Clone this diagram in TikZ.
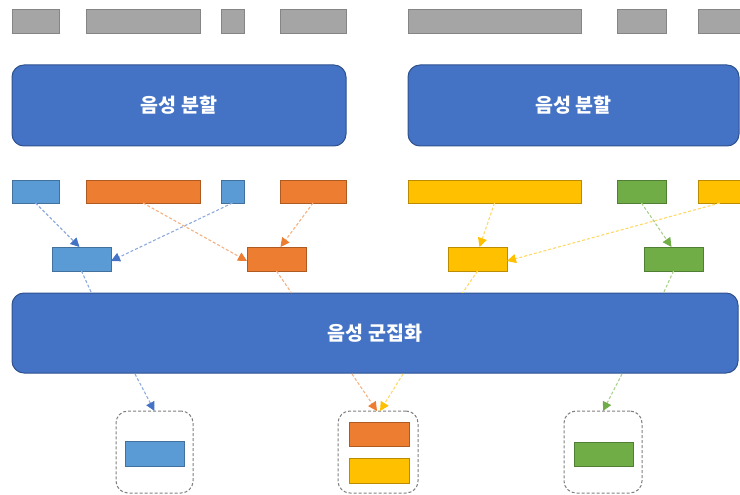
\documentclass[tikz,border=0pt]{standalone}
\usepackage{fontspec}
\newfontfamily\kr{Noto Sans CJK KR}
\usetikzlibrary{arrows.meta}
\definecolor{grayF}{HTML}{A5A5A5}
\definecolor{grayD}{HTML}{858585}
\definecolor{bigF}{HTML}{4472C4}
\definecolor{bigD}{HTML}{2F528F}
\definecolor{blueF}{HTML}{5B9BD5}
\definecolor{blueD}{HTML}{41719C}
\definecolor{orangeF}{HTML}{ED7D31}
\definecolor{orangeD}{HTML}{AE5A21}
\definecolor{yellowF}{HTML}{FFC000}
\definecolor{yellowD}{HTML}{BC8C00}
\definecolor{greenF}{HTML}{70AD47}
\definecolor{greenD}{HTML}{507E32}
\definecolor{blueL}{HTML}{8FAADC}
\definecolor{orangeL}{HTML}{F4B183}
\definecolor{yellowL}{HTML}{FFD966}
\definecolor{greenL}{HTML}{A9D18E}
\definecolor{boxL}{HTML}{7F7F7F}
\tikzset{
  seg/.style={anchor=north west, inner sep=0pt, outer sep=0pt, line width=1pt},
  graybar/.style={seg, fill=grayF, draw=grayD},
  bluebar/.style={seg, fill=blueF, draw=blueD},
  orangebar/.style={seg, fill=orangeF, draw=orangeD},
  yellowbar/.style={seg, fill=yellowF, draw=yellowD},
  greenbar/.style={seg, fill=greenF, draw=greenD},
  block/.style={anchor=north west, inner sep=0pt, outer sep=0pt, fill=bigF, draw=bigD, line width=1pt, rounded corners=12pt, text=white, font=\kr\bfseries\fontsize{19.5}{22}\selectfont},
  group/.style={anchor=north west, inner sep=0pt, outer sep=0pt, draw=boxL, dashed, line width=1pt, rounded corners=12pt, dash pattern=on 3pt off 2pt},
  link/.style={line width=1.1pt, dash pattern=on 3pt off 2pt},
  bluelink/.style={link, draw=blueL, -{Triangle[length=9pt,width=9pt,color=bigF,fill=bigF]}},
  orangelink/.style={link, draw=orangeL, -{Triangle[length=9pt,width=9pt,color=orangeF,fill=orangeF]}},
  yellowlink/.style={link, draw=yellowL, -{Triangle[length=9pt,width=9pt,color=yellowF,fill=yellowF]}},
  greenlink/.style={link, draw=greenL, -{Triangle[length=9pt,width=9pt,color=greenF,fill=greenF]}},
}
\begin{document}
\begin{tikzpicture}[x=1pt,y=-1pt]
\useasboundingbox (0,0) rectangle (740,495);
% top gray row
\node[graybar, minimum width=47, minimum height=24] (g1) at (12,10) {};
\node[graybar, minimum width=114, minimum height=24] (g2) at (86,10) {};
\node[graybar, minimum width=23, minimum height=24] (g3) at (221,10) {};
\node[graybar, minimum width=66, minimum height=24] (g4) at (280,10) {};
\node[graybar, minimum width=173, minimum height=24] (g5) at (408,10) {};
\node[graybar, minimum width=49, minimum height=24] (g6) at (617,10) {};
\node[graybar, minimum width=50, minimum height=24] (g7) at (698,10) {};
% segmentation blocks
\node[block, minimum width=334, minimum height=81] (seg1) at (12,65) {음성 분할};
\node[block, minimum width=331, minimum height=81] (seg2) at (408,65) {음성 분할};
% coloured row
\node[bluebar, minimum width=47, minimum height=23] (c1) at (12,180) {};
\node[orangebar, minimum width=114, minimum height=23] (c2) at (86,180) {};
\node[bluebar, minimum width=23, minimum height=23] (c3) at (221,180) {};
\node[orangebar, minimum width=66, minimum height=23] (c4) at (280,180) {};
\node[yellowbar, minimum width=173, minimum height=23] (c5) at (408,180) {};
\node[greenbar, minimum width=49, minimum height=23] (c6) at (617,180) {};
\node[yellowbar, minimum width=50, minimum height=23] (c7) at (698,180) {};
% middle boxes
\node[bluebar, minimum width=59, minimum height=24] (mb) at (52,247) {};
\node[orangebar, minimum width=59, minimum height=24] (mo) at (247,247) {};
\node[yellowbar, minimum width=59, minimum height=24] (my) at (448,247) {};
\node[greenbar, minimum width=59, minimum height=24] (mg) at (644,247) {};
% clustering block
\node[block, minimum width=726, minimum height=80] (clu) at (12,293) {음성 군집화};
% result groups
\node[group, minimum width=77, minimum height=82] (r1) at (116,411) {};
\node[group, minimum width=80, minimum height=82] (r2) at (338,411) {};
\node[group, minimum width=78, minimum height=82] (r3) at (564,411) {};
\node[bluebar, minimum width=59, minimum height=25] (rb) at (125,441) {};
\node[orangebar, minimum width=60, minimum height=24] (ro) at (349,422) {};
\node[yellowbar, minimum width=60, minimum height=25] (ry) at (349,458) {};
\node[greenbar, minimum width=59, minimum height=24] (rg) at (574,442) {};
% arrows to middle boxes
\draw[bluelink] (c1.south) -- ([xshift=-2]mb.north);
\draw[bluelink] (c3.south) -- ([yshift=-2]mb.east);
\draw[orangelink] (c2.south) -- ([yshift=-2]mo.west);
\draw[orangelink] (c4.south) -- ([xshift=4]mo.north);
\draw[yellowlink] (c5.south) -- ([xshift=2]my.north);
\draw[yellowlink] ([xshift=-3]c7.south) -- ([yshift=-2]my.east);
\draw[greenlink] (c6.south) -- ([xshift=-2]mg.north);
% lines into clustering block
\draw[link, draw=blueL] (mb.south) -- ([xshift=10]mb.south |- clu.north);
\draw[link, draw=orangeL] (mo.south) -- ([xshift=15]mo.south |- clu.north);
\draw[link, draw=yellowL] (my.south) -- ([xshift=-15]my.south |- clu.north);
\draw[link, draw=greenL] (mg.south) -- ([xshift=-10]mg.south |- clu.north);
% arrows to results
\coordinate (o1) at (135,374);
\coordinate (o2) at (352,374);
\coordinate (o3) at (403,374);
\coordinate (o4) at (622,374);
\draw[bluelink] (o1) -- (r1.north);
\draw[orangelink] (o2) -- ([xshift=-1]r2.north);
\draw[yellowlink] (o3) -- ([xshift=2]r2.north);
\draw[greenlink] (o4) -- (r3.north);
\end{tikzpicture}
\end{document}
